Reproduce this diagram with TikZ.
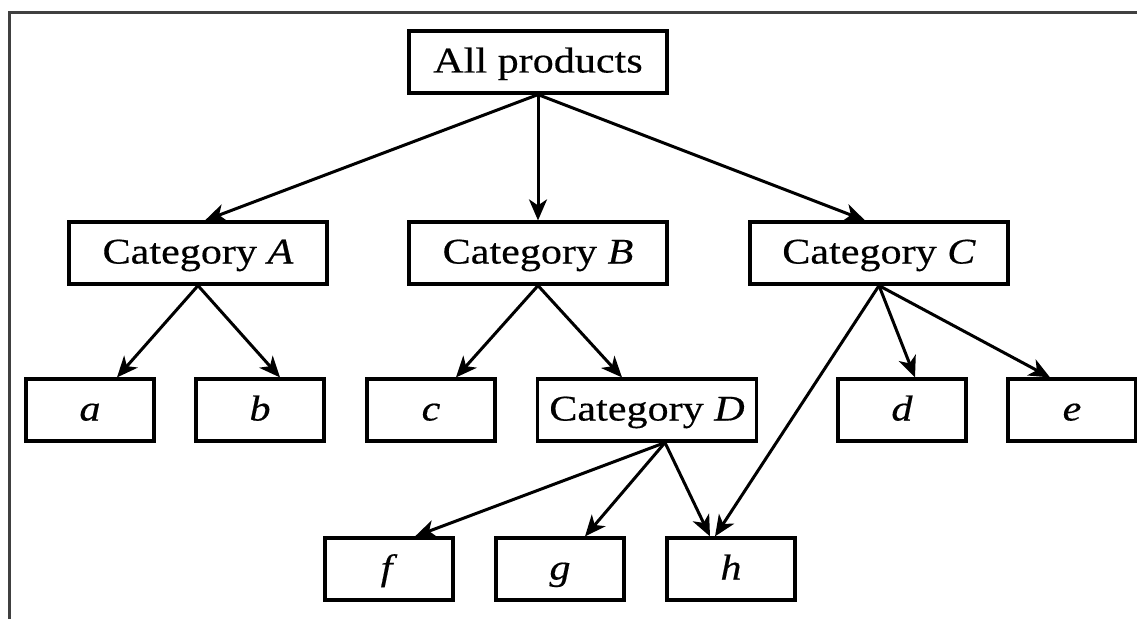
\documentclass[tikz,border=0pt]{standalone}
\usepackage{fontspec}
\setmainfont{Liberation Serif}[FakeStretch=1.17,FakeBold=0.4]
\usetikzlibrary{arrows.meta}
\begin{document}
\begin{tikzpicture}[x=1pt,y=-1pt,
  box/.style={draw, line width=3.2pt, minimum height=62pt, inner sep=0pt,
    font=\fontsize{36}{42}\selectfont, text height=24pt, text depth=3pt},
  wide/.style={box, minimum width=258pt},
  leaf/.style={box, minimum width=128pt},
  arr/.style={line width=3pt, -{Stealth[length=21pt,width=18pt,inset=6pt]}}]
\useasboundingbox (0,0) rectangle (1137,618);
\clip (0,0) rectangle (1137,618);
\fill[white] (0,0) rectangle (1137,618);
% outer frame
\draw[line width=3pt, black!75] (9,13) rectangle (1160,640);
% nodes
\node[wide] (all) at (538,62) {All products};
\node[wide] (ca) at (198,253) {Category \textit{A}};
\node[wide] (cb) at (538,253) {Category \textit{B}};
\node[wide] (cc) at (879,253) {Category \textit{C}};
\node[leaf] (a) at (90,410) {\textit{a}};
\node[leaf] (b) at (260,410) {\textit{b}};
\node[leaf] (c) at (431,410) {\textit{c}};
\node[box, minimum width=219pt] (cd) at (647,410) {Category \textit{D}};
\node[leaf] (d) at (902,410) {\textit{d}};
\node[leaf] (e) at (1072,410) {\textit{e}};
\node[leaf] (f) at (389,569) {\textit{f}};
\node[leaf] (g) at (560,569) {\textit{g}};
\node[leaf] (h) at (731,569) {\textit{h}};
% connectors
\draw[arr] (all.south) -- ([xshift=7pt]ca.north);
\draw[arr] (all.south) -- (cb.north);
\draw[arr] (all.south) -- ([xshift=-14pt]cc.north);
\draw[arr] (ca.south) -- ([xshift=27pt]a.north);
\draw[arr] (ca.south) -- ([xshift=20pt]b.north);
\draw[arr] (cb.south) -- ([xshift=25pt]c.north);
\draw[arr] (cb.south) -- ([xshift=-25pt]cd.north);
\draw[arr] (cc.south) -- ([xshift=13pt]d.north);
\draw[arr] (cc.south) -- ([xshift=-22pt]e.north);
\draw[arr] (cc.south) -- ([xshift=-16pt]h.north);
\draw[arr] ([xshift=18pt]cd.south) -- ([xshift=26pt]f.north);
\draw[arr] ([xshift=18pt]cd.south) -- ([xshift=25pt]g.north);
\draw[arr] ([xshift=18pt]cd.south) -- ([xshift=-21pt]h.north);
\end{tikzpicture}
\end{document}
